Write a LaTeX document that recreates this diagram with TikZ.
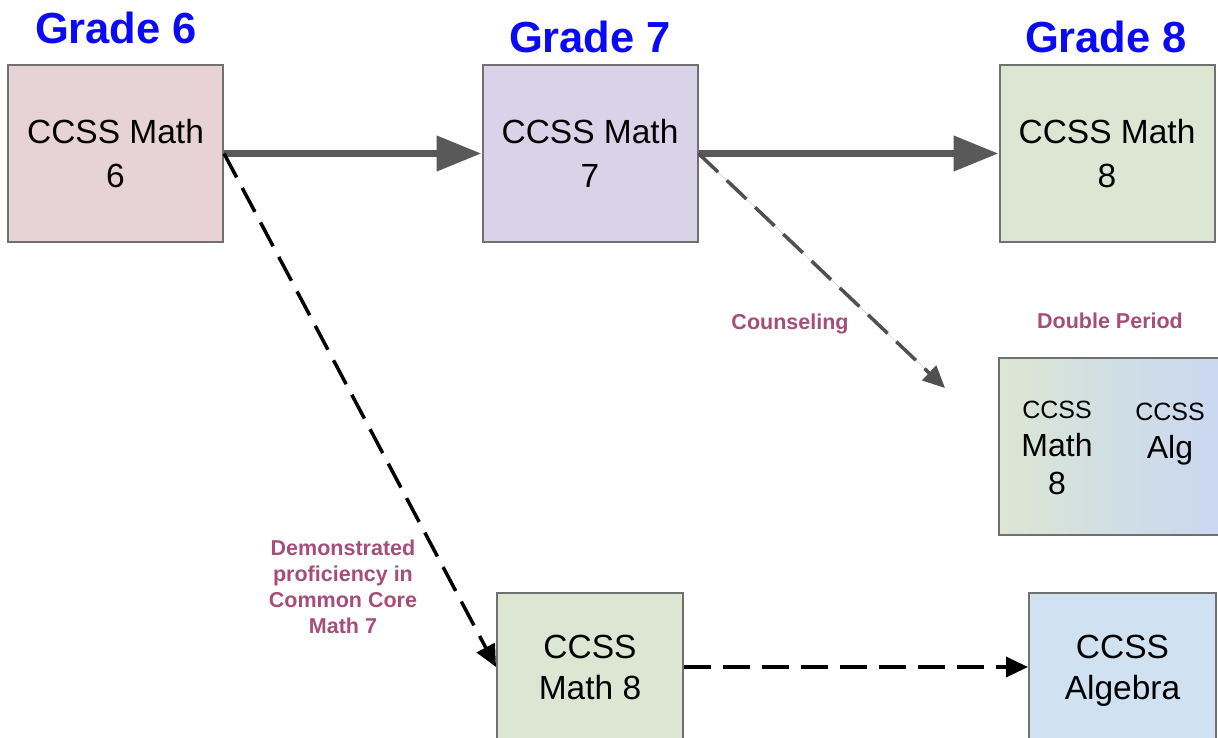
\documentclass[tikz,border=0pt]{standalone}
\usepackage{fontspec}
\setmainfont{Liberation Sans}
\usetikzlibrary{arrows.meta}

\definecolor{gradeblue}{RGB}{10,10,245}
\definecolor{notemauve}{RGB}{166,77,121}
\definecolor{boxgray}{RGB}{112,112,112}
\definecolor{flowgray}{RGB}{89,89,89}
\definecolor{dashgray}{RGB}{80,80,80}
\definecolor{sixfill}{RGB}{230,210,215}
\definecolor{sevenfill}{RGB}{217,211,233}
\definecolor{eightfill}{RGB}{221,230,211}
\definecolor{algfill}{RGB}{208,225,241}
\definecolor{midfill}{RGB}{207,222,229}

\tikzset{
    course/.style={draw=boxgray, line width=2pt, minimum width=215pt, minimum height=177pt,
        inner sep=0pt, align=center, font=\fontsize{33.5}{44}\selectfont},
    lowcourse/.style={course, minimum height=148pt, font=\fontsize{33.5}{41}\selectfont},
    grade/.style={text=gradeblue, font=\bfseries\fontsize{43.5}{50}\selectfont},
    note/.style={text=notemauve, align=center, font=\bfseries\fontsize{21.5}{26}\selectfont},
    mainflow/.style={draw=flowgray, line width=7.5pt, -{Triangle[length=45pt,width=34pt]}},
    altflow/.style={line width=3.5pt, dash pattern=on 27pt off 12pt,
        -{Triangle[length=22pt,width=20pt]}}
}

\newcommand{\gradehead}[3]{
    \node[grade] (#1) at (#2) {#3};
}

\begin{document}
\begin{tikzpicture}[x=1pt,y=-1pt]
    \useasboundingbox (0,0) rectangle (1218,738);

    % grade headings
    \gradehead{g6}{116,28}{Grade 6}
    \gradehead{g7}{590,37}{Grade 7}
    \gradehead{g8}{1106,37}{Grade 8}

    % regular pathway
    \node[course, fill=sixfill] (m6) at (115.5,153.5) {CCSS Math\\6};
    \node[course, fill=sevenfill] (m7) at (590,153.5) {CCSS Math\\7};
    \node[course, fill=eightfill] (m8) at (1107,153.5) {CCSS Math\\8};

    % double period
    \node[course, minimum width=240pt, left color=eightfill, right color={rgb,255:red,203;green,214;blue,242},
        middle color=midfill] (dbl) at (1119,446.5) {};
    \node[align=center, font=\fontsize{32}{38}\selectfont] (dblm) at (1057,448)
        {{\fontsize{25}{30}\selectfont CCSS}\\Math\\8};
    \node[align=center, font=\fontsize{32}{38}\selectfont] (dbla) at (1170,434)
        {{\fontsize{25}{30}\selectfont CCSS}\\Alg};
    \node[note] (dblp) at (1110,321) {Double Period};

    % accelerated pathway
    \node[lowcourse, minimum width=186pt, fill=eightfill] (m8a) at (590,667) {CCSS\\Math 8};
    \node[lowcourse, minimum width=187pt, fill=algfill, text depth=0pt] (alg) at (1122.5,667) {CCSS\\Algebra};

    \coordinate (cend) at (945,388);

    \draw[mainflow] (m6.east) -- (m7.west);
    \draw[mainflow] (m7.east) -- (m8.west);
    \draw[altflow, draw=dashgray, fill=dashgray] (m7.east) -- (cend);
    \draw[altflow] (m6.east) -- (m8a.west);
    \draw[altflow] (m8a.east) -- (alg.west);

    \node[note] (couns) at (790,324) {Counseling};
    \node[note] (prof) at (343,587) {Demonstrated\\proficiency in\\Common Core\\Math 7};
\end{tikzpicture}
\end{document}
